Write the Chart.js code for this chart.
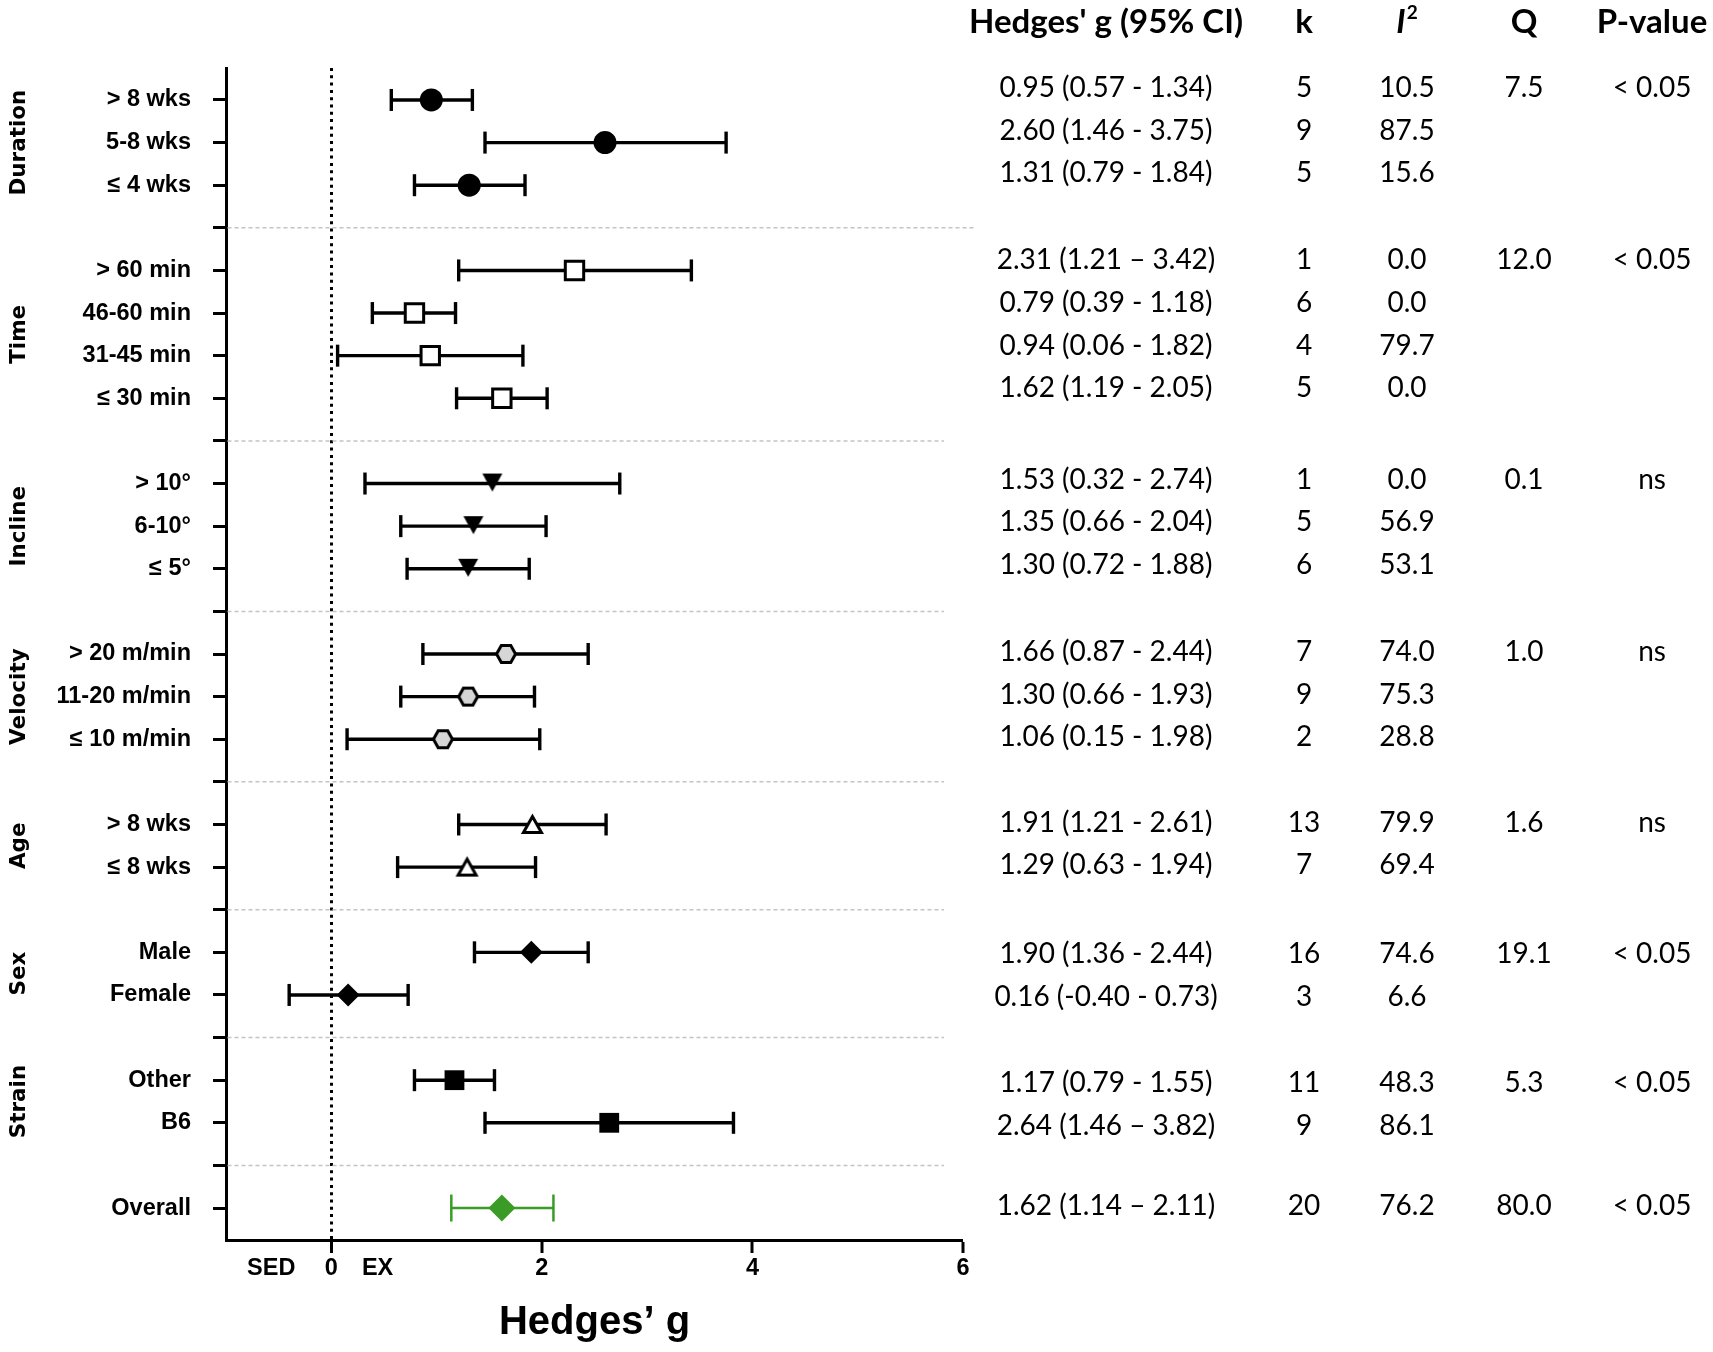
<!DOCTYPE html>
<html><head><meta charset="utf-8">
<script src="https://cdn.jsdelivr.net/npm/chart.js@4.4.1/dist/chart.umd.min.js"></script>
<style>html,body{margin:0;padding:0;background:#fff;} #wrap{width:1713px;height:1352px;position:relative;}</style>
</head><body><div id="wrap"><canvas id="c"></canvas></div>
<script>
// ---------------- DATA ----------------
const groups = ['Duration', 'Time', 'Incline', 'Velocity', 'Age', 'Sex', 'Strain', ''];
const rowGroup = [0,0,0, 1,1,1,1, 2,2,2, 3,3,3, 4,4, 5,5, 6,6, 7];
const rowLabels = ['> 8 wks','5-8 wks','≤ 4 wks',
  '> 60 min','46-60 min','31-45 min','≤ 30 min',
  '> 10°','6-10°','≤ 5°',
  '> 20 m/min','11-20 m/min','≤ 10 m/min',
  '> 8 wks','≤ 8 wks',
  'Male','Female',
  'Other','B6',
  'Overall'];
const estimate = [0.95,2.60,1.31, 2.31,0.79,0.94,1.62, 1.53,1.35,1.30, 1.66,1.30,1.06, 1.91,1.29, 1.90,0.16, 1.17,2.64, 1.62];
const ciLower  = [0.57,1.46,0.79, 1.21,0.39,0.06,1.19, 0.32,0.66,0.72, 0.87,0.66,0.15, 1.21,0.63, 1.36,-0.40, 0.79,1.46, 1.14];
const ciUpper  = [1.34,3.75,1.84, 3.42,1.18,1.82,2.05, 2.74,2.04,1.88, 2.44,1.93,1.98, 2.61,1.94, 2.44,0.73, 1.55,3.82, 2.11];
const ciDash   = ['-','-','-', '–','-','-','-', '-','-','-', '-','-','-', '-','-', '-','-', '-','–', '–'];
const kStudies = [5,9,5, 1,6,4,5, 1,5,6, 7,9,2, 13,7, 16,3, 11,9, 20];
const iSquared = [10.5,87.5,15.6, 0.0,0.0,79.7,0.0, 0.0,56.9,53.1, 74.0,75.3,28.8, 79.9,69.4, 74.6,6.6, 48.3,86.1, 76.2];
const qValue   = [7.5,null,null, 12.0,null,null,null, 0.1,null,null, 1.0,null,null, 1.6,null, 19.1,null, 5.3,null, 80.0];
const pValue   = ['< 0.05','','', '< 0.05','','','', 'ns','','', 'ns','','', 'ns','', '< 0.05','', '< 0.05','', '< 0.05'];
const xTickValues = [-0.57, 0, 0.44, 2, 4, 6];
const xTickLabels = ['SED', '0', 'EX', '2', '4', '6'];
const tableHeaders = ["Hedges' g (95% CI)", 'k', 'I', 'Q', 'P-value'];

// ---------------- LAYOUT / STYLE ----------------
const W = 1713, H = 1352;
const PLOT_TOP = 68, PLOT_BOTTOM = 1240, PLOT_LEFT = 226, PLOT_RIGHT = 963;
const GREEN = '#3a9b26';
const AX_FONT = 'Liberation Sans';
const GROUP_FONT = 'DejaVu Sans';
const TAB_FONT = 'Lato';
const colX = [1106, 1304, 1407, 1524, 1652];
const groupNudge = [-12, -10, -4, -2, -2, 2, 3, -2]; // table row vertical nudge (px) per group

// slot positions (rows with a blank separator slot between groups)
const slot = [];
(function(){ let s = 0; rowGroup.forEach((g,i)=>{ if (i>0 && g!==rowGroup[i-1]) s++; slot.push(s); s++; }); })();
const nSlots = slot[slot.length-1] + 1;
const separators = [];
rowGroup.forEach((g,i)=>{ if (i>0 && g!==rowGroup[i-1]) separators.push(slot[i]-1); });
const slotLabel = {};
slot.forEach((s,i)=>{ slotLabel[s] = rowLabels[i]; });

function shapeCanvas(kind, w, h, fill, stroke, lw) {
  const pad = 3;
  const c = document.createElement('canvas');
  c.width = Math.ceil(w + pad*2); c.height = Math.ceil(h + pad*2);
  const g = c.getContext('2d');
  const cx = c.width/2, cy = c.height/2;
  const hw = w/2 - lw/2, hh = h/2 - lw/2;
  g.beginPath();
  if (kind === 'hex') {
    g.moveTo(cx - hw, cy); g.lineTo(cx - hw/2, cy - hh); g.lineTo(cx + hw/2, cy - hh);
    g.lineTo(cx + hw, cy); g.lineTo(cx + hw/2, cy + hh); g.lineTo(cx - hw/2, cy + hh);
  } else if (kind === 'triDown') {
    g.moveTo(cx - hw, cy - hh - 1); g.lineTo(cx + hw, cy - hh - 1); g.lineTo(cx, cy + hh - 1);
  } else if (kind === 'triUp') {
    g.moveTo(cx, cy - hh); g.lineTo(cx + hw, cy + hh); g.lineTo(cx - hw, cy + hh);
  }
  g.closePath();
  g.fillStyle = fill; g.fill();
  if (lw > 0) { g.lineWidth = lw; g.lineJoin = 'miter'; g.strokeStyle = stroke; g.stroke(); }
  return c;
}

const groupMarker = [
  {style:'circle', r:11.5, bg:'#000', bc:'#000', bw:0},
  {style:'rect', r:13, bg:'#fff', bc:'#000', bw:3},
  {style:shapeCanvas('triDown', 20, 18, '#000', '#000', 0), r:10, bg:'#000', bc:'#000', bw:0},
  {style:shapeCanvas('hex', 22, 20, '#d6d6d6', '#000', 3), r:10, bg:'#d6d6d6', bc:'#000', bw:0},
  {style:shapeCanvas('triUp', 21, 19, '#fff', '#000', 3), r:10, bg:'#fff', bc:'#000', bw:0},
  {style:'rectRot', r:11.5, bg:'#000', bc:'#000', bw:0},
  {style:'rect', r:14, bg:'#000', bc:'#000', bw:0},
  {style:'rectRot', r:13.5, bg:GREEN, bc:GREEN, bw:0},
];

// ---------------- DATASETS ----------------
const datasets = [];
groups.forEach((gName, gi) => {
  const m = groupMarker[gi];
  const idx = rowGroup.map((g,i)=>g===gi ? i : -1).filter(i=>i>=0);
  datasets.push({
    type: 'scatter', label: gName || 'Overall', order: 0,
    data: idx.map(i => ({x: estimate[i], y: slot[i]})),
    pointStyle: m.style, pointRadius: m.r, pointBackgroundColor: m.bg,
    pointBorderColor: m.bc, pointBorderWidth: m.bw, showLine: false
  });
});
rowLabels.forEach((lab, i) => {
  const isOverall = rowGroup[i] === 7;
  const col = isOverall ? GREEN : '#000';
  datasets.push({
    type: 'line', label: lab + ' CI', order: 1,
    data: [{x: ciLower[i], y: slot[i]}, {x: ciUpper[i], y: slot[i]}],
    borderColor: col, borderWidth: isOverall ? 2.5 : 3.4, fill: false,
    pointStyle: 'line', pointRotation: 90, pointRadius: isOverall ? 13.5 : 11,
    pointBorderWidth: isOverall ? 2.5 : 3.4, pointBorderColor: col, pointBackgroundColor: col
  });
});

// ---------------- PLUGINS ----------------
const separatorPlugin = {
  id: 'separators',
  beforeDatasetsDraw(chart) {
    const {ctx, scales: {x, y}} = chart;
    ctx.save();
    ctx.strokeStyle = '#c4c4c4'; ctx.lineWidth = 1.5; ctx.setLineDash([4, 3]);
    separators.forEach((s, k) => {
      const py = y.getPixelForValue(s);
      const xEnd = x.getPixelForValue(k === 0 ? 6.1 : 5.82);
      ctx.beginPath(); ctx.moveTo(x.left + 1.5, py); ctx.lineTo(xEnd, py); ctx.stroke();
    });
    ctx.restore();
  }
};

const textPlugin = {
  id: 'texts',
  afterDraw(chart) {
    const {ctx, scales: {y}} = chart;
    ctx.save();
    ctx.fillStyle = '#000';
    // group labels (rotated)
    ctx.font = 'bold 21.5px "' + GROUP_FONT + '"';
    ctx.textAlign = 'center'; ctx.textBaseline = 'alphabetic';
    groups.forEach((g, gi) => {
      if (!g) return;
      const sl = slot.filter((_, i) => rowGroup[i] === gi);
      const yc = (y.getPixelForValue(Math.min(...sl)) + y.getPixelForValue(Math.max(...sl))) / 2;
      ctx.save(); ctx.translate(25, yc); ctx.rotate(-Math.PI / 2); ctx.fillText(g, 0, 0); ctx.restore();
    });
    // table headers
    const headY = 22;
    ctx.textBaseline = 'middle'; ctx.textAlign = 'center';
    ctx.font = 'bold 33px "' + TAB_FONT + '"';
    [0,1,3,4].forEach(c => ctx.fillText(tableHeaders[c], colX[c], headY));
    // I² header
    ctx.textAlign = 'left';
    ctx.font = 'italic bold 33px "' + TAB_FONT + '"';
    const wI = ctx.measureText(tableHeaders[2]).width;
    ctx.font = 'bold 19px "' + TAB_FONT + '"';
    const w2 = ctx.measureText('2').width;
    const x0 = colX[2] - (wI + w2 + 1) / 2;
    ctx.font = 'italic bold 33px "' + TAB_FONT + '"';
    ctx.fillText(tableHeaders[2], x0, headY);
    ctx.font = 'bold 19px "' + TAB_FONT + '"';
    ctx.fillText('2', x0 + wI + 1, headY - 9);
    // table rows
    ctx.textAlign = 'center';
    ctx.font = '28px "' + TAB_FONT + '"';
    rowLabels.forEach((_, i) => {
      const py = y.getPixelForValue(slot[i]) + groupNudge[rowGroup[i]];
      const ci = estimate[i].toFixed(2) + ' (' + ciLower[i].toFixed(2) + ' ' + ciDash[i] + ' ' + ciUpper[i].toFixed(2) + ')';
      ctx.fillText(ci, colX[0], py);
      ctx.fillText(String(kStudies[i]), colX[1], py);
      ctx.fillText(iSquared[i].toFixed(1), colX[2], py);
      if (qValue[i] !== null) ctx.fillText(qValue[i].toFixed(1), colX[3], py);
      if (pValue[i]) ctx.fillText(pValue[i], colX[4], py);
    });
    ctx.restore();
  }
};

// ---------------- CHART ----------------
const axisFont = {family: AX_FONT, size: 23.5, weight: 'bold'};
new Chart(document.getElementById('c'), {
  type: 'scatter',
  data: {datasets},
  options: {
    responsive: true, maintainAspectRatio: false, animation: false, events: [],
    layout: {padding: {left: 0, top: PLOT_TOP, right: W - PLOT_RIGHT, bottom: 0}},
    plugins: {legend: {display: false}, tooltip: {enabled: false}},
    scales: {
      x: {
        type: 'linear', min: -1, max: 6,
        afterBuildTicks: sc => { sc.ticks = xTickValues.map(v => ({value: v})); },
        afterFit: sc => { sc.height = H - PLOT_BOTTOM; },
        ticks: {autoSkip: false, maxRotation: 0, minRotation: 0, padding: 1, color: '#000', font: axisFont,
          callback: (v, i) => xTickLabels[i]},
        grid: {
          drawOnChartArea: true, drawTicks: true, tickLength: 13, tickWidth: 3,
          color: c => (c.tick && c.tick.value === 0) ? '#000' : 'rgba(0,0,0,0)',
          lineWidth: c => (c.tick && c.tick.value === 0) ? 3 : 0,
          tickColor: c => (c.index === 0 || c.index === 2) ? 'rgba(0,0,0,0)' : '#000'
        },
        border: {display: true, color: '#000', width: 3, dash: [3, 4.3]},
        title: {display: true, text: 'Hedges’ g', color: '#000', font: {family: AX_FONT, size: 40, weight: 'bold'}, padding: {top: 0, bottom: 5}}
      },
      y: {
        type: 'linear', reverse: true, min: -0.75, max: nSlots - 0.25,
        afterBuildTicks: sc => { sc.ticks = Array.from({length: nSlots}, (_, i) => ({value: i})); },
        afterFit: sc => { sc.width = PLOT_LEFT; },
        ticks: {autoSkip: false, padding: 22, color: '#000', font: axisFont, callback: v => slotLabel[v] || ''},
        grid: {drawOnChartArea: false, drawTicks: true, tickLength: 13, tickWidth: 3, tickColor: '#000', lineWidth: 3},
        border: {display: true, color: '#000', width: 3}
      }
    }
  },
  plugins: [separatorPlugin, textPlugin]
});
</script>
</body></html>
